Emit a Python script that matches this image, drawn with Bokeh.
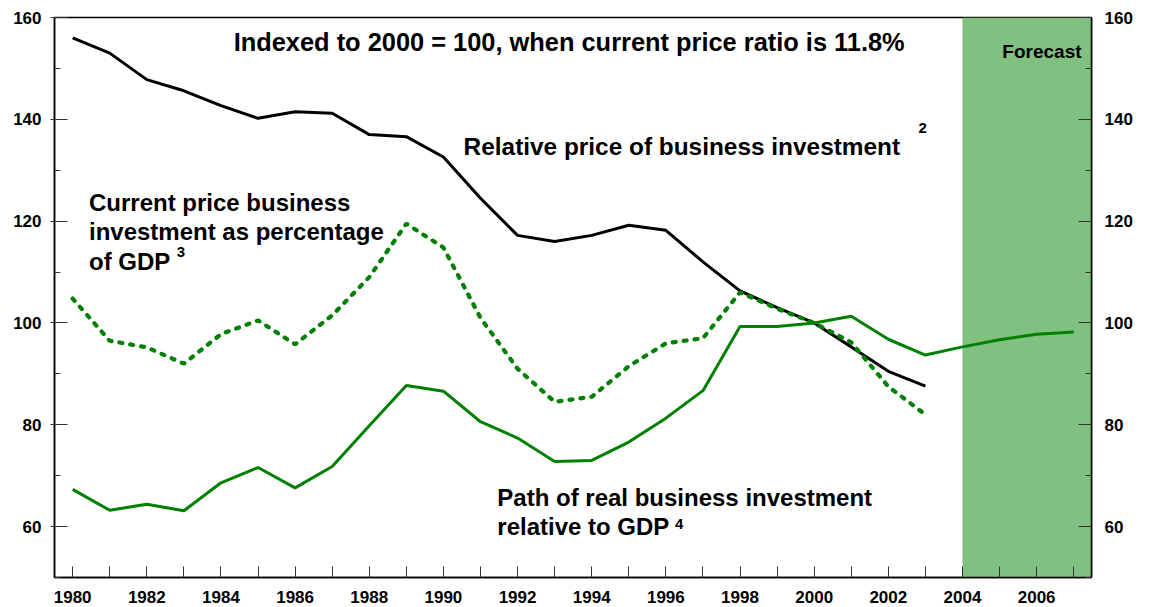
from bokeh.plotting import figure
from bokeh.models import Range1d, LinearAxis, FixedTicker, BoxAnnotation, Label
from bokeh.embed import file_html
from bokeh.resources import INLINE

years = list(range(1980, 2008))
years_hist = list(range(1980, 2004))

relative_price = [156.0, 153.0, 147.8, 145.6, 142.7, 140.2, 141.5, 141.2, 137.0, 136.6,
                  132.6, 124.5, 117.2, 116.0, 117.2, 119.2, 118.2, 112.0, 106.3, 103.0,
                  100.0, 95.3, 90.5, 87.6]
current_price_ratio = [104.8, 96.5, 95.2, 92.0, 97.8, 100.5, 95.8, 101.5, 109.0, 119.5,
                       114.8, 101.0, 91.0, 84.5, 85.5, 91.5, 96.0, 97.0, 106.0, 102.8,
                       100.0, 96.2, 87.5, 82.0]
real_investment = [67.3, 63.2, 64.4, 63.1, 68.6, 71.6, 67.6, 71.8, 79.8, 87.7,
                   86.6, 80.6, 77.4, 72.8, 73.0, 76.6, 81.3, 86.7, 99.3, 99.3,
                   100.0, 101.3, 96.8, 93.7, 95.3, 96.7, 97.8, 98.2]

x_major = list(range(1980, 2007, 2))
x_minor = list(range(1981, 2008, 2))
y_major = [60, 80, 100, 120, 140, 160]
y_minor = [50, 70, 90, 110, 130, 150]
forecast_start = 2004

FONT = "Liberation Sans"

p = figure(width=1150, height=605, output_backend="svg", toolbar_location=None,
           x_range=Range1d(1979.51, 2007.48), y_range=Range1d(50, 160),
           min_border_left=54, min_border_right=59, min_border_top=17, min_border_bottom=28)
p.xgrid.visible = False
p.ygrid.visible = False
p.outline_line_color = "black"
p.outline_line_width = 1.5
p.background_fill_color = "white"
p.border_fill_color = "white"

# Forecast shading
box = BoxAnnotation(left=forecast_start, fill_color="#80c080", fill_alpha=1.0,
                    line_color=None, level="underlay")
p.add_layout(box)

# Lines
p.line(years_hist, relative_price, line_color="black", line_width=3)
p.line(years_hist, current_price_ratio, line_color="#008000", line_width=4.2,
       line_dash="3 8", line_cap="round")
p.line(years, real_investment, line_color="#008000", line_width=3)

def style_axis(ax):
    ax.axis_line_color = "black"
    ax.axis_line_width = 1.5
    ax.major_tick_line_color = "#333333"
    ax.minor_tick_line_color = "#333333"
    ax.major_label_text_font = FONT
    ax.major_label_text_font_style = "bold"
    ax.major_label_text_font_size = "17px"
    ax.major_label_text_color = "black"

# x axis
xa = p.xaxis[0]
xa.ticker = FixedTicker(ticks=x_major, minor_ticks=x_minor)
style_axis(xa)
xa.major_tick_in = 11
xa.major_tick_out = 0
xa.minor_tick_in = 11
xa.minor_tick_out = 0
xa.major_label_standoff = 13

# left y axis
ya = p.yaxis[0]
ya.ticker = FixedTicker(ticks=y_major, minor_ticks=y_minor)
style_axis(ya)
ya.major_tick_in = 13
ya.major_tick_out = 4
ya.minor_tick_in = 6
ya.minor_tick_out = 0
ya.major_label_standoff = 9

# right y axis
p.extra_y_ranges = {"right": Range1d(50, 160)}
ra = LinearAxis(y_range_name="right", ticker=FixedTicker(ticks=y_major, minor_ticks=y_minor))
style_axis(ra)
ra.major_tick_in = 13
ra.major_tick_out = 0
ra.minor_tick_in = 6
ra.minor_tick_out = 0
ra.major_label_standoff = 13
p.add_layout(ra, "right")

SHIFT = 8  # px correction for baseline rendering

def px_x(px):
    return 1980 + (px - 72) / 37.08

def px_y(py):
    return 160 - (py - SHIFT - 17) / 5.1

def lab(x, y, text, size, align="left"):
    p.add_layout(Label(x=x, y=y, text=text, text_font=FONT, text_font_style="bold",
                       text_font_size=size, text_color="black", text_align=align,
                       text_baseline="alphabetic"))

lab(px_x(233), px_y(49.3), "Indexed to 2000 = 100, when current price ratio is 11.8%", "25.4px")
lab(px_x(1081), px_y(59.3), "Forecast", "19px", align="right")
lab(px_x(463), px_y(154.3), "Relative price of business investment", "24.4px")
lab(px_x(918), px_y(135.5), "2", "15px")
lab(px_x(88.3), px_y(210.7), "Current price business", "24px")
lab(px_x(88.3), px_y(239.3), "investment as percentage", "24px")
lab(px_x(88.3), px_y(269.3), "of GDP", "24px")
lab(px_x(176.0), px_y(259.5), "3", "15px")
lab(px_x(496.7), px_y(505.7), "Path of real business investment", "24px")
lab(px_x(496.7), px_y(535.0), "relative to GDP", "24px")
lab(px_x(674.5), px_y(532.5), "4", "15px")

open("out.html", "w").write(file_html(p, INLINE))
